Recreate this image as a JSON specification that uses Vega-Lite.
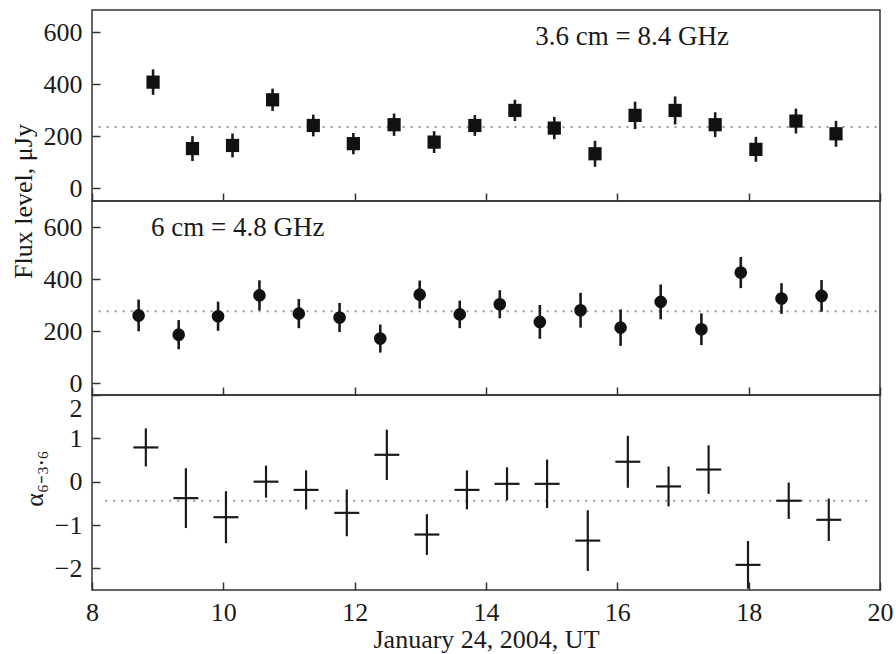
{
  "$schema": "https://vega.github.io/schema/vega-lite/v6.json",
  "background": "white",
  "padding": {"left": 9, "top": 9, "right": 14, "bottom": 0},
  "spacing": 0,
  "bounds": "flush",
  "config": {
    "font": "Liberation Serif",
    "view": {"stroke": "#333", "strokeWidth": 1.5},
    "style": {"guide-label": {"font": "Liberation Serif"}, "guide-title": {"font": "Liberation Serif"}},
    "axis": {
      "labelFont": "Liberation Serif", "titleFont": "Liberation Serif",
      "labelFontSize": 26, "titleFontSize": 26,
      "labelColor": "#1a1a1a", "titleColor": "#1a1a1a", "titleFontWeight": "normal",
      "tickColor": "#333", "tickSize": 8, "tickWidth": 1.5, "offset": -8,
      "domain": false, "grid": false, "labelOverlap": false
    },
    "axisX": {"labelFont": "Liberation Serif"},
    "axisY": {"labelFont": "Liberation Serif"}
  },
  "datasets": {
    "f36": [
      {"t": 8.93, "flux": 408, "err": 49}, {"t": 9.53, "flux": 152, "err": 48},
      {"t": 10.14, "flux": 164, "err": 46}, {"t": 10.75, "flux": 340, "err": 43},
      {"t": 11.37, "flux": 241, "err": 42}, {"t": 11.98, "flux": 171, "err": 41},
      {"t": 12.60, "flux": 244, "err": 43}, {"t": 13.21, "flux": 177, "err": 42},
      {"t": 13.83, "flux": 241, "err": 40}, {"t": 14.44, "flux": 299, "err": 41},
      {"t": 15.04, "flux": 231, "err": 43}, {"t": 15.66, "flux": 132, "err": 50},
      {"t": 16.27, "flux": 280, "err": 53}, {"t": 16.88, "flux": 299, "err": 54},
      {"t": 17.49, "flux": 244, "err": 48}, {"t": 18.11, "flux": 149, "err": 48},
      {"t": 18.72, "flux": 258, "err": 48}, {"t": 19.33, "flux": 209, "err": 50}
    ],
    "f6": [
      {"t": 8.71, "flux": 260, "err": 61}, {"t": 9.32, "flux": 186, "err": 56},
      {"t": 9.92, "flux": 257, "err": 56}, {"t": 10.55, "flux": 337, "err": 58},
      {"t": 11.15, "flux": 267, "err": 56}, {"t": 11.77, "flux": 252, "err": 56},
      {"t": 12.39, "flux": 171, "err": 54}, {"t": 12.99, "flux": 340, "err": 54},
      {"t": 13.60, "flux": 264, "err": 53}, {"t": 14.21, "flux": 303, "err": 54},
      {"t": 14.82, "flux": 235, "err": 65}, {"t": 15.44, "flux": 280, "err": 67},
      {"t": 16.05, "flux": 213, "err": 70}, {"t": 16.66, "flux": 312, "err": 67},
      {"t": 17.28, "flux": 207, "err": 61}, {"t": 17.88, "flux": 425, "err": 60},
      {"t": 18.50, "flux": 325, "err": 59}, {"t": 19.11, "flux": 335, "err": 61}
    ],
    "alpha": [
      {"t": 8.82, "a": 0.79, "aerr": 0.44, "terr": 0.19}, {"t": 9.43, "a": -0.38, "aerr": 0.69, "terr": 0.19},
      {"t": 10.04, "a": -0.82, "aerr": 0.60, "terr": 0.19}, {"t": 10.65, "a": 0.00, "aerr": 0.37, "terr": 0.19},
      {"t": 11.26, "a": -0.19, "aerr": 0.45, "terr": 0.19}, {"t": 11.88, "a": -0.72, "aerr": 0.54, "terr": 0.19},
      {"t": 12.49, "a": 0.62, "aerr": 0.58, "terr": 0.19}, {"t": 13.10, "a": -1.22, "aerr": 0.47, "terr": 0.19},
      {"t": 13.71, "a": -0.19, "aerr": 0.45, "terr": 0.19}, {"t": 14.32, "a": -0.05, "aerr": 0.38, "terr": 0.19},
      {"t": 14.93, "a": -0.05, "aerr": 0.56, "terr": 0.19}, {"t": 15.55, "a": -1.36, "aerr": 0.70, "terr": 0.19},
      {"t": 16.16, "a": 0.46, "aerr": 0.60, "terr": 0.19}, {"t": 16.78, "a": -0.11, "aerr": 0.46, "terr": 0.19},
      {"t": 17.39, "a": 0.28, "aerr": 0.56, "terr": 0.19}, {"t": 17.99, "a": -1.92, "aerr": 0.55, "terr": 0.19},
      {"t": 18.61, "a": -0.44, "aerr": 0.42, "terr": 0.19}, {"t": 19.22, "a": -0.88, "aerr": 0.49, "terr": 0.19}
    ]
  },
  "vconcat": [
    {
      "width": 788, "height": 191,
      "layer": [
        {
          "data": {"values": [{"mean": 235.5}]},
          "mark": {"type": "rule", "strokeDash": [2, 6], "color": "#999", "strokeWidth": 2},
          "encoding": {
            "x": {"datum": 8.1, "type": "quantitative", "scale": {"domain": [8, 20], "nice": false, "zero": false},
                  "axis": {"values": [8, 10, 12, 14, 16, 18, 20], "labels": false, "title": null}},
            "x2": {"datum": 20},
            "y": {"field": "mean", "type": "quantitative", "scale": {"domain": [-50, 686], "nice": false, "zero": false},
                  "axis": {"values": [0, 200, 400, 600], "labelFont": "Liberation Serif", "labelPadding": 10, "title": "Flux level, μJy", "titleX": -64, "titleY": 191, "titleAngle": 270}}
          }
        },
        {
          "data": {"name": "f36"},
          "mark": {"type": "errorbar", "ticks": false, "color": "#1a1a1a", "thickness": 2.6},
          "encoding": {
            "x": {"field": "t", "type": "quantitative", "scale": {"domain": [8, 20], "nice": false, "zero": false},
                  "axis": {"values": [8, 10, 12, 14, 16, 18, 20], "labels": false, "title": null}},
            "y": {"field": "flux", "type": "quantitative", "scale": {"domain": [-50, 686], "nice": false, "zero": false},
                  "axis": {"values": [0, 200, 400, 600], "labelFont": "Liberation Serif", "labelPadding": 10, "title": "Flux level, μJy", "titleX": -64, "titleY": 191, "titleAngle": 270}},
            "yError": {"field": "err"}
          }
        },
        {
          "data": {"name": "f36"},
          "mark": {"type": "point", "shape": "square", "filled": true, "size": 175, "color": "#111", "opacity": 1},
          "encoding": {
            "x": {"field": "t", "type": "quantitative", "scale": {"domain": [8, 20], "nice": false, "zero": false},
                  "axis": {"values": [8, 10, 12, 14, 16, 18, 20], "labels": false, "title": null}},
            "y": {"field": "flux", "type": "quantitative", "scale": {"domain": [-50, 686], "nice": false, "zero": false},
                  "axis": {"values": [0, 200, 400, 600], "labelFont": "Liberation Serif", "labelPadding": 10, "title": "Flux level, μJy", "titleX": -64, "titleY": 191, "titleAngle": 270}}
          }
        },
        {
          "data": {"values": [{"label": "3.6 cm = 8.4 GHz"}]},
          "mark": {"type": "text", "align": "left", "baseline": "middle", "fontSize": 27, "font": "Liberation Serif", "fontWeight": "normal", "color": "#1a1a1a"},
          "encoding": {
            "text": {"field": "label"},
            "x": {"datum": 14.75, "type": "quantitative", "scale": {"domain": [8, 20], "nice": false, "zero": false},
                  "axis": {"values": [8, 10, 12, 14, 16, 18, 20], "labels": false, "title": null}},
            "y": {"datum": 583, "type": "quantitative", "scale": {"domain": [-50, 686], "nice": false, "zero": false},
                  "axis": {"values": [0, 200, 400, 600], "labelFont": "Liberation Serif", "labelPadding": 10, "title": "Flux level, μJy", "titleX": -64, "titleY": 191, "titleAngle": 270}}
          }
        }
      ]
    },
    {
      "width": 788, "height": 194,
      "layer": [
        {
          "data": {"values": [{"mean": 276}]},
          "mark": {"type": "rule", "strokeDash": [2, 6], "color": "#999", "strokeWidth": 2},
          "encoding": {
            "x": {"datum": 8.1, "type": "quantitative", "scale": {"domain": [8, 20], "nice": false, "zero": false},
                  "axis": {"values": [8, 10, 12, 14, 16, 18, 20], "labels": false, "title": null}},
            "x2": {"datum": 20},
            "y": {"field": "mean", "type": "quantitative", "scale": {"domain": [-46, 700], "nice": false, "zero": false},
                  "axis": {"values": [0, 200, 400, 600], "labelFont": "Liberation Serif", "labelPadding": 10, "title": null}}
          }
        },
        {
          "data": {"name": "f6"},
          "mark": {"type": "errorbar", "ticks": false, "color": "#1a1a1a", "thickness": 2.6},
          "encoding": {
            "x": {"field": "t", "type": "quantitative", "scale": {"domain": [8, 20], "nice": false, "zero": false},
                  "axis": {"values": [8, 10, 12, 14, 16, 18, 20], "labels": false, "title": null}},
            "y": {"field": "flux", "type": "quantitative", "scale": {"domain": [-46, 700], "nice": false, "zero": false},
                  "axis": {"values": [0, 200, 400, 600], "labelFont": "Liberation Serif", "labelPadding": 10, "title": null}},
            "yError": {"field": "err"}
          }
        },
        {
          "data": {"name": "f6"},
          "mark": {"type": "point", "shape": "circle", "filled": true, "size": 160, "color": "#111", "opacity": 1},
          "encoding": {
            "x": {"field": "t", "type": "quantitative", "scale": {"domain": [8, 20], "nice": false, "zero": false},
                  "axis": {"values": [8, 10, 12, 14, 16, 18, 20], "labels": false, "title": null}},
            "y": {"field": "flux", "type": "quantitative", "scale": {"domain": [-46, 700], "nice": false, "zero": false},
                  "axis": {"values": [0, 200, 400, 600], "labelFont": "Liberation Serif", "labelPadding": 10, "title": null}}
          }
        },
        {
          "data": {"values": [{"label": "6 cm = 4.8 GHz"}]},
          "mark": {"type": "text", "align": "left", "baseline": "middle", "fontSize": 27, "font": "Liberation Serif", "fontWeight": "normal", "color": "#1a1a1a"},
          "encoding": {
            "text": {"field": "label"},
            "x": {"datum": 8.9, "type": "quantitative", "scale": {"domain": [8, 20], "nice": false, "zero": false},
                  "axis": {"values": [8, 10, 12, 14, 16, 18, 20], "labels": false, "title": null}},
            "y": {"datum": 596, "type": "quantitative", "scale": {"domain": [-46, 700], "nice": false, "zero": false},
                  "axis": {"values": [0, 200, 400, 600], "labelFont": "Liberation Serif", "labelPadding": 10, "title": null}}
          }
        }
      ]
    },
    {
      "width": 788, "height": 195,
      "layer": [
        {
          "data": {"values": [{"mean": -0.44}]},
          "mark": {"type": "rule", "strokeDash": [2, 6], "color": "#999", "strokeWidth": 2},
          "encoding": {
            "x": {"datum": 8.2, "type": "quantitative", "scale": {"domain": [8, 20], "nice": false, "zero": false},
                  "axis": {"values": [8, 10, 12, 14, 16, 18, 20], "labelFont": "Liberation Serif", "labelPadding": 9, "labelFlush": false, "title": "January 24, 2004, UT", "titlePadding": 1}},
            "x2": {"datum": 19.85},
            "y": {"field": "mean", "type": "quantitative", "scale": {"domain": [-2.5, 2], "nice": false, "zero": false},
                  "axis": {"values": [-2, -1, 0, 1, 2], "labelFont": "Liberation Serif", "labelPadding": 10, "labelFlush": true, "title": "α₆₋₃.₆", "titleX": -53, "titleY": 83, "titleAngle": 270}}
          }
        },
        {
          "data": {"name": "alpha"},
          "mark": {"type": "errorbar", "ticks": false, "color": "#1a1a1a", "thickness": 2.2},
          "encoding": {
            "x": {"field": "t", "type": "quantitative", "scale": {"domain": [8, 20], "nice": false, "zero": false},
                  "axis": {"values": [8, 10, 12, 14, 16, 18, 20], "labelFont": "Liberation Serif", "labelPadding": 9, "labelFlush": false, "title": "January 24, 2004, UT", "titlePadding": 1}},
            "y": {"field": "a", "type": "quantitative", "scale": {"domain": [-2.5, 2], "nice": false, "zero": false},
                  "axis": {"values": [-2, -1, 0, 1, 2], "labelFont": "Liberation Serif", "labelPadding": 10, "labelFlush": true, "title": "α₆₋₃.₆", "titleX": -53, "titleY": 83, "titleAngle": 270}},
            "yError": {"field": "aerr"}
          }
        },
        {
          "data": {"name": "alpha"},
          "mark": {"type": "errorbar", "ticks": false, "color": "#1a1a1a", "thickness": 2.2},
          "encoding": {
            "x": {"field": "t", "type": "quantitative", "scale": {"domain": [8, 20], "nice": false, "zero": false},
                  "axis": {"values": [8, 10, 12, 14, 16, 18, 20], "labelFont": "Liberation Serif", "labelPadding": 9, "labelFlush": false, "title": "January 24, 2004, UT", "titlePadding": 1}},
            "xError": {"field": "terr"},
            "y": {"field": "a", "type": "quantitative", "scale": {"domain": [-2.5, 2], "nice": false, "zero": false},
                  "axis": {"values": [-2, -1, 0, 1, 2], "labelFont": "Liberation Serif", "labelPadding": 10, "labelFlush": true, "title": "α₆₋₃.₆", "titleX": -53, "titleY": 83, "titleAngle": 270}}
          }
        }
      ]
    }
  ]
}
